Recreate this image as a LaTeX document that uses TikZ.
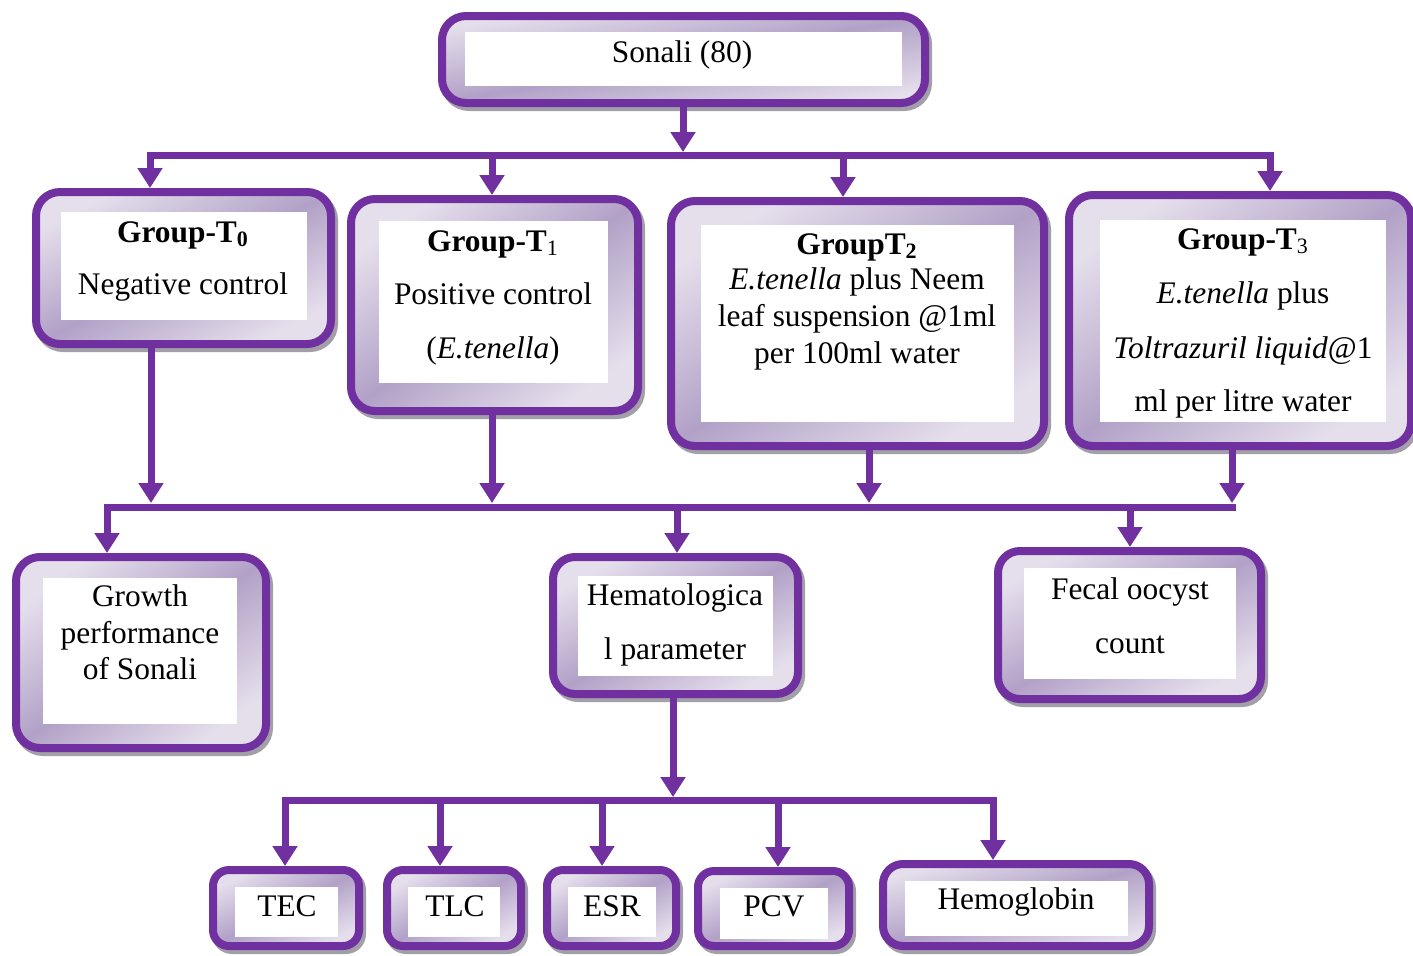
\documentclass[tikz,border=0pt]{standalone}
\usepackage{fontspec}
\setmainfont{Liberation Serif}
\usetikzlibrary{arrows.meta,fit}
\definecolor{pur}{HTML}{7030A0}
\definecolor{lavl}{HTML}{E5DFEC}
\definecolor{lavd}{HTML}{B2A1C7}
\definecolor{shd}{HTML}{A29FA8}
\tikzset{
  pbox/.style={draw=pur, line width=4pt, rounded corners=#1, inner sep=0pt,
    top color=lavl, bottom color=lavl, middle color=lavd, shading angle=45,
    preaction={draw=shd, fill=shd, line width=4pt, transform canvas={xshift=1.5pt,yshift=-2pt}}},
  pbox/.default=12pt,
  wbox/.style={fill=white, draw=none, inner sep=0pt},
  txt/.style={anchor=base, inner sep=0pt, font=\fontsize{15.7}{19}\selectfont},
  conn/.style={draw=pur, line width=3.5pt},
  arr/.style={conn, -{Triangle[width=12pt,length=10pt]}},
}
\begin{document}
\begin{tikzpicture}[x=0.5pt,y=-0.5pt]
\useasboundingbox (0,0) rectangle (1413,955);
% boxes
\node[pbox, shading angle=10, fit={(442,16)(925,103)}] (s) {};
\node[wbox, fit={(465,32)(902,86)}] (s-in) {};
\node[pbox, shading angle=27, fit={(36,192)(331,344)}] (t0) {};
\node[wbox, fit={(61,212)(307,320)}] (t0-in) {};
\node[pbox, shading angle=36, fit={(351,199)(638,411)}] (t1) {};
\node[wbox, fit={(379,221)(608,383)}] (t1-in) {};
\node[pbox, shading angle=33, fit={(671,201)(1044,446)}] (t2) {};
\node[wbox, fit={(701,225)(1014,422)}] (t2-in) {};
\node[pbox, shading angle=36, fit={(1069,195)(1411,446)}] (t3) {};
\node[wbox, fit={(1100,220)(1386,422)}] (t3-in) {};
\node[pbox, shading angle=37, fit={(16,557)(266,748)}] (g) {};
\node[wbox, fit={(43,578)(237,724)}] (g-in) {};
\node[pbox=11pt, shading angle=29, fit={(553,557)(798,694)}] (h) {};
\node[wbox, fit={(578,576)(773,676)}] (h-in) {};
\node[pbox=11pt, shading angle=29, fit={(998,551)(1261,699)}] (f) {};
\node[wbox, fit={(1024,568)(1236,679)}] (f-in) {};
\node[pbox=8pt, shading angle=27, fit={(213,870)(359,946)}] (tec) {};
\node[wbox, fit={(235,887)(338,937)}] (tec-in) {};
\node[pbox=8pt, shading angle=30, fit={(387,870)(521,946)}] (tlc) {};
\node[wbox, fit={(408,887)(500,937)}] (tlc-in) {};
\node[pbox=8pt, shading angle=30, fit={(547,870)(676,946)}] (esr) {};
\node[wbox, fit={(568,887)(656,937)}] (esr-in) {};
\node[pbox=8pt, shading angle=26, fit={(698,871)(849,946)}] (pcv) {};
\node[wbox, fit={(720,888)(828,939)}] (pcv-in) {};
\node[pbox=10pt, shading angle=17, fit={(883,864)(1149,946)}] (hb) {};
\node[wbox, fit={(905,881)(1128,936)}] (hb-in) {};
% texts
\node[txt] (s-l1) at (682,62) {Sonali (80)};
\node[txt] (t0-l1) at (183,242) {\textbf{Group-T\textsubscript{0}}};
\node[txt] (t0-l2) at (183,294) {Negative control};
\node[txt] (t1-l1) at (493,251) {\textbf{Group-T}\textsubscript{1}};
\node[txt] (t1-l2) at (493,304) {Positive control};
\node[txt] (t1-l3) at (493,358) {(\textit{E.tenella})};
\node[txt] (t2-l1) at (857,254) {\textbf{GroupT\textsubscript{2}}};
\node[txt] (t2-l2) at (857,289) {\textit{E.tenella} plus Neem};
\node[txt] (t2-l3) at (857,326) {leaf suspension @1ml};
\node[txt] (t2-l4) at (857,363) {per 100ml water};
\node[txt] (t3-l1) at (1243,249) {\textbf{Group-T}\textsubscript{3}};
\node[txt] (t3-l2) at (1243,303) {\textit{E.tenella} plus};
\node[txt] (t3-l3) at (1243,358) {\textit{Toltrazuril liquid}@1};
\node[txt] (t3-l4) at (1243,411) {ml per litre water};
\node[txt] (g-l1) at (140,606) {Growth};
\node[txt] (g-l2) at (140,643) {performance};
\node[txt] (g-l3) at (140,679) {of Sonali};
\node[txt] (h-l1) at (675,605) {Hematologica};
\node[txt] (h-l2) at (675,659) {l parameter};
\node[txt] (f-l1) at (1130,599) {Fecal oocyst};
\node[txt] (f-l2) at (1130,653) {count};
\node[txt] (tec-l) at (287,916) {TEC};
\node[txt] (tlc-l) at (455,916) {TLC};
\node[txt] (esr-l) at (612,916) {ESR};
\node[txt] (pcv-l) at (774,916) {PCV};
\node[txt] (hb-l) at (1016,909) {Hemoglobin};
% level 1 connectors
\coordinate (b1w) at (150,155);
\coordinate (b1a) at (492,155);
\coordinate (b1b) at (843,155);
\coordinate (b1e) at (1270,155);
\coordinate (b1top) at (683,152);
\draw[conn, line cap=rect] (b1w) -- (b1e);
\draw[arr] (s.south -| b1top) -- (b1top);
\draw[arr] (b1w) -- (b1w |- t0.north);
\draw[arr] (b1a) -- (b1a |- t1.north);
\draw[arr] (b1b) -- (b1b |- t2.north);
\draw[arr] (b1e) -- (b1e |- t3.north);
% level 2 connectors
\coordinate (b2w) at (107,507);
\coordinate (b2m) at (677,507);
\coordinate (b2f) at (1130,507);
\coordinate (b2e) at (1232,507);
\coordinate (c0) at (151,503);
\coordinate (c1) at (492,503);
\coordinate (c2) at (869,503);
\coordinate (c3) at (1232,503);
\draw[conn, line cap=rect] (b2w) -- (b2e);
\draw[arr] (t0.south -| c0) -- (c0);
\draw[arr] (t1.south -| c1) -- (c1);
\draw[arr] (t2.south -| c2) -- (c2);
\draw[arr] (t3.south -| c3) -- (c3);
\draw[arr] (b2w) -- (b2w |- g.north);
\draw[arr] (b2m) -- (b2m |- h.north);
\draw[arr] (b2f) -- (b2f |- f.north);
% level 3 connectors
\coordinate (b3w) at (285,800);
\coordinate (b3b) at (440,800);
\coordinate (b3c) at (602,800);
\coordinate (b3d) at (778,800);
\coordinate (b3e) at (993,800);
\coordinate (h3) at (673,797);
\draw[conn, line cap=rect] (b3w) -- (b3e);
\draw[arr] (h.south -| h3) -- (h3);
\draw[arr] (b3w) -- (b3w |- tec.north);
\draw[arr] (b3b) -- (b3b |- tlc.north);
\draw[arr] (b3c) -- (b3c |- esr.north);
\draw[arr] (b3d) -- (b3d |- pcv.north);
\draw[arr] (b3e) -- (b3e |- hb.north);
\end{tikzpicture}
\end{document}
